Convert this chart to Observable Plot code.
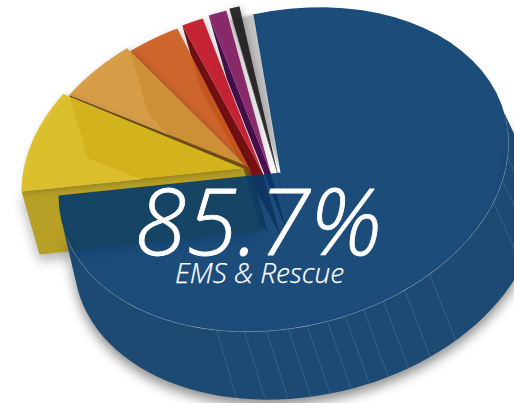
<!DOCTYPE html>
<html>
<head>
<meta charset="utf-8">
<script src="https://cdn.jsdelivr.net/npm/d3@7"></script>
<script src="https://cdn.jsdelivr.net/npm/@observablehq/plot@0.6"></script>
<style>html,body{margin:0;padding:0;background:#fff;overflow:hidden}</style>
</head>
<body>
<div id="chart"></div>
<script>
const shares = [85.7, 6.15, 3.6, 2.35, 0.95, 0.8, 0.45];
const topFills = ["#033a6b", "#dbbd1d", "#d7983b", "#ce5c20", "#c31526", "#821b61", "#1e1c1e"];
const wallFills = ["#1c4a73", "#b8a026", "#80581f", "#7f4a12", "#7a1216", "#4a1050", "#1c1c1c"];
const headline = ["85.7%"];
const sublabel = ["EMS & Rescue"];
// Angle of each seam drawn on the side of the large slice (degrees round the rim)
const seamAngles = [14, 22.2, 30, 58.6, 66.5, 72.7, 78.2, 83.1, 87.8, 93, 97.8, 103.4, 109.1, 116.4];

// Projection of the tilted disc into picture space
const centre = [283, 169], semiA = 228, semiB = 158, tilt = -13 * Math.PI / 180;
const sliceDepth = {dx: 18, dy: 63, k: 1}, bigDepth = {dx: 22, dy: 63, k: 1.03};
const rimOffset = [[0,0], [-37,-4], [-31,-3], [-28,0], [-23,-3], [-17,-6], [-14,-8]];
const apexAt = [[280,172], [243,168], [245,165], [250,170], [262,172], [270,172], [277,172]];
// Picture-space foreshortening: the rim angle is piecewise linear in cumulative share
const rim = d3.scaleLinear().domain([0, 85.7, 100]).range([271.4, 549.2, 631.4]);

const rad = d => d * Math.PI / 180;
function onRim(t, off, down) {
  const k = down ? down.k : 1;
  const a = k * semiA * Math.cos(rad(t)), b = k * semiB * Math.sin(rad(t));
  return {
    x: centre[0] + off[0] + a * Math.cos(tilt) - b * Math.sin(tilt) + (down ? down.dx : 0),
    y: centre[1] + off[1] + a * Math.sin(tilt) + b * Math.cos(tilt) + (down ? down.dy : 0)
  };
}
const apex = (i, down) => ({
  x: apexAt[i][0] + (down ? down.dx : 0),
  y: apexAt[i][1] + (down ? down.dy : 0)
});
const arc = (t0, t1, off, down) => d3.range(0, 61).map(i => onRim(t0 + (t1 - t0) * i / 60, off, down));

let cum = 0;
const slices = shares.map((v, i) => {
  const s = {i, t0: rim(cum), t1: rim(cum + v), off: rimOffset[i], fill: topFills[i], wall: wallFills[i]};
  cum += v;
  return s;
});

const marks = [];
const poly = (pts, fill, opacity, extra = {}) =>
  Plot.line(pts, {x: "x", y: "y", fill, fillOpacity: opacity, stroke: "none", ...extra});

// the pale cast shadow in the gap beside the large slice
marks.push(poly([apex(0), ...arc(265.5, 271.8, [0, 0])], "#c2c2c2", 1, {imageFilter: "blur(1px)"}));

// back to front: small slices first, the large slice last
for (const s of slices.slice(1).reverse()) {
  const sideWall = [apex(s.i), onRim(s.t0, s.off), onRim(s.t0, s.off, sliceDepth), apex(s.i, sliceDepth)];
  const extra = s.i === 1 ? {imageFilter: "drop-shadow(0 6px 6px rgba(0,0,0,.3))"} : {};
  marks.push(poly(sideWall, s.wall, 1, extra));
  marks.push(poly([apex(s.i), ...arc(s.t0, s.t1, s.off)], s.fill, 0.92,
    {imageFilter: "drop-shadow(2px 1px 3px rgba(0,0,0,.25))"}));
}
const big = slices[0];
marks.push(poly([...arc(-2, 178, big.off), ...arc(178, -2, big.off, bigDepth)], big.wall, 1,
  {imageFilter: "drop-shadow(0 6px 6px rgba(0,0,0,.45))"}));
marks.push(poly([apex(0), ...arc(big.t0, big.t1, big.off)], big.fill, 0.9));
marks.push(Plot.link(seamAngles, {
  x1: t => onRim(t, big.off).x, y1: t => onRim(t, big.off).y,
  x2: t => onRim(t, big.off, bigDepth).x, y2: t => onRim(t, big.off, bigDepth).y,
  stroke: "#b9c6d3", strokeOpacity: 0.3, strokeWidth: 0.6
}));
marks.push(Plot.line(arc(5, 172, big.off), {x: "x", y: "y", stroke: "#b9c6d3", strokeOpacity: 0.4, strokeWidth: 0.6}));

const face = "'Open Sans', sans-serif";
marks.push(Plot.text(headline, {
  x: () => 258, y: () => 225, text: d => d, fill: "white", fontSize: 93, fontStyle: "italic",
  fontWeight: 300, fontFamily: face, textAnchor: "middle", stroke: "white", strokeWidth: 0.8
}));
marks.push(Plot.text(sublabel, {
  x: () => 259, y: () => 274, text: d => d, fill: "white", fontSize: 28, fontStyle: "italic",
  fontWeight: 300, fontFamily: face, textAnchor: "middle", stroke: "white", strokeWidth: 0.25
}));

const chart = Plot.plot({
  width: 514, height: 403, margin: 0,
  x: {domain: [0, 514], range: [0, 514], axis: null},
  y: {domain: [0, 403], range: [0, 403], axis: null},
  style: {background: "white"},
  marks
});
document.getElementById("chart").append(chart);
</script>
</body>
</html>
